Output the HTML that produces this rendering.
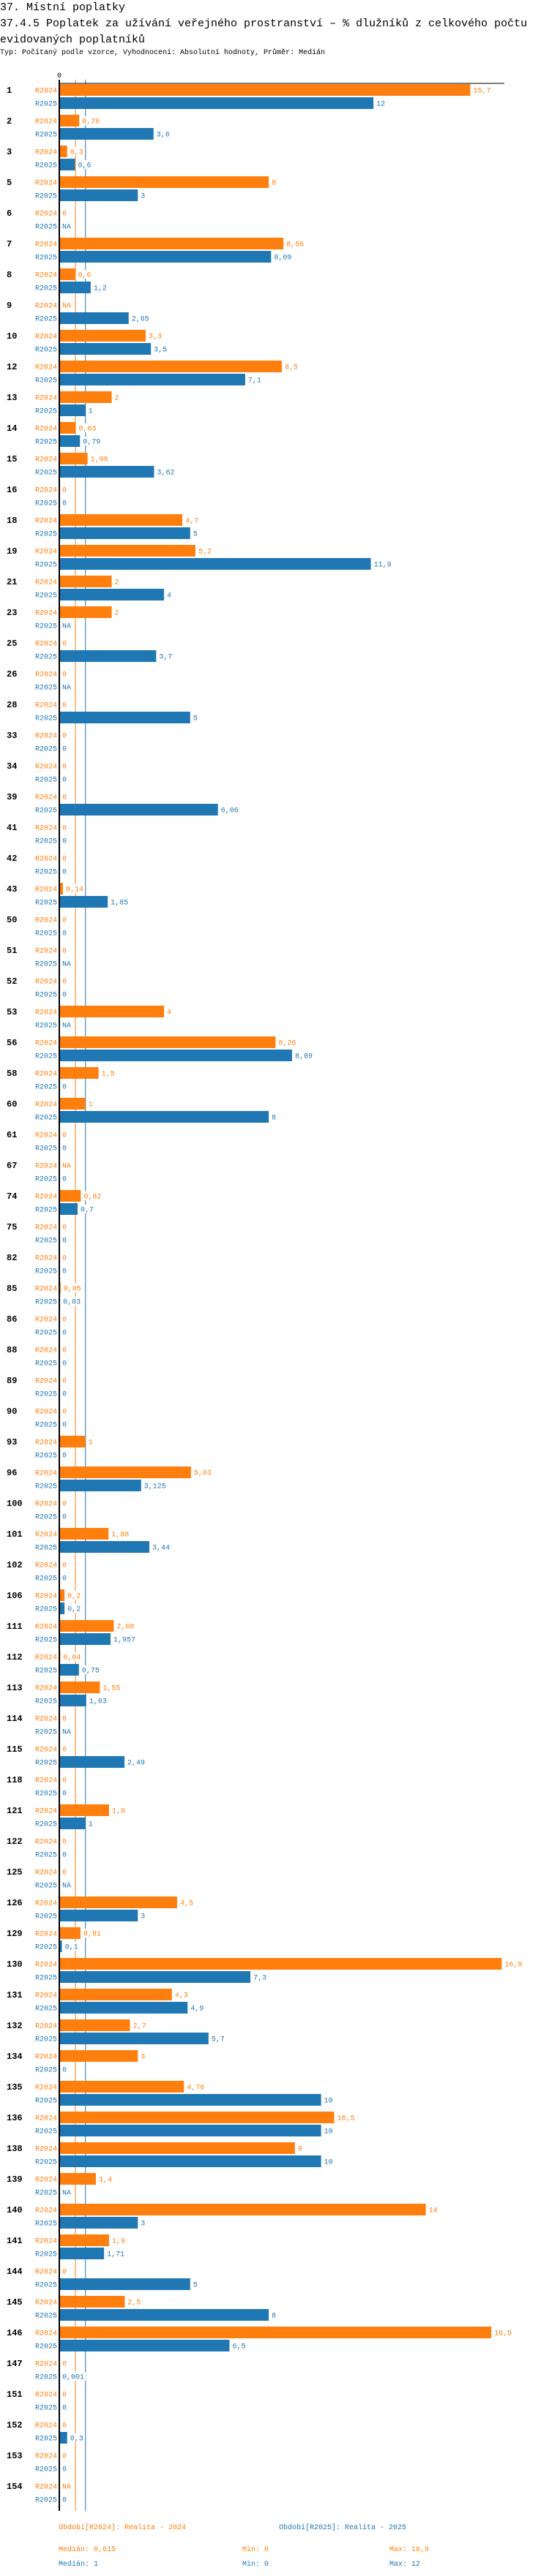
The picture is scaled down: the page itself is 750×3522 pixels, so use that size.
<!DOCTYPE html>
<html><head><meta charset="utf-8">
<style>
body{margin:0;background:#fff;width:750px;height:3522px;overflow:hidden;font-family:"Liberation Mono",monospace;}
.t{position:absolute;left:0;white-space:nowrap;color:#000;}
</style></head><body>
<div class="t" style="top:0px;font-size:15px;line-height:22px;">37. Místní poplatky</div>
<div class="t" style="top:22px;font-size:15px;line-height:22px;">37.4.5 Poplatek za užívání veřejného prostranství – % dlužníků z celkového počtu<br>evidovaných poplatníků</div>
<div class="t" style="top:66px;font-size:10px;line-height:14px;">Typ: Počítaný podle vzorce, Vyhodnocení: Absolutní hodnoty, Průměr: Medián</div>
<svg id="chart" width="750" height="3522" style="position:absolute;left:0;top:0" xmlns="http://www.w3.org/2000/svg"></svg>
<script>
const categories=["1","2","3","5","6","7","8","9","10","12","13","14","15","16","18","19","21","23","25","26","28","33","34","39","41","42","43","50","51","52","53","56","58","60","61","67","74","75","82","85","86","88","89","90","93","96","100","101","102","106","111","112","113","114","115","118","121","122","125","126","129","130","131","132","134","135","136","138","139","140","141","144","145","146","147","151","152","153","154"];
const r2024=[15.7,0.76,0.3,8,0,8.56,0.6,null,3.3,8.5,2,0.63,1.08,0,4.7,5.2,2,2,0,0,0,0,0,0,0,0,0.14,0,0,0,4,8.26,1.5,1,0,null,0.82,0,0,0.05,0,0,0,0,1,5.03,0,1.88,0,0.2,2.08,0.04,1.55,0,0,0,1.9,0,0,4.5,0.81,16.9,4.3,2.7,3,4.76,10.5,9,1.4,14,1.9,0,2.5,16.5,0,0,0,0,null];
const r2025=[12,3.6,0.6,3,null,8.09,1.2,2.65,3.5,7.1,1,0.79,3.62,0,5,11.9,4,null,3.7,null,5,0,0,6.06,0,0,1.85,0,null,0,null,8.89,0,8,0,0,0.7,0,0,0.03,0,0,0,0,0,3.125,0,3.44,0,0.2,1.957,0.75,1.03,null,2.49,0,1,0,null,3,0.1,7.3,4.9,5.7,0,10,10,10,null,3,1.71,5,8,6.5,0.001,0,0.3,0,0];
const seriesNames=["R2024","R2025"];
const medians=[0.615,1];
const mins=[0,0];
const maxs=[16.9,12];
const xDomain=[0,17];

const svg=document.getElementById('chart');
const NS="http://www.w3.org/2000/svg";
const colors=["#ff7f0e","#1f77b4"];
const X0=81,X1=689,TOP=114,G0=123,PITCH=42;
function x(v){return X0+(v-xDomain[0])/(xDomain[1]-xDomain[0])*(X1-X0);}
function gy(i){return G0+i*PITCH;}
function el(tag,attrs,txt){const e=document.createElementNS(NS,tag);for(const k in attrs)e.setAttribute(k,attrs[k]);if(txt!==undefined)e.textContent=txt;svg.appendChild(e);return e;}
function fmt(v){return v===null?"NA":String(v).replace('.',',');}
const bottom=gy(categories.length-1)+34;

// median lines
medians.forEach((m,s)=>{
  const l=el('line',{x1:x(m),x2:x(m),y1:109,y2:bottom,stroke:colors[s],'stroke-width':1});
  
  
});

categories.forEach((c,i)=>{
  const cy=gy(i);
  const g=el('text',{x:9,y:cy+4,'font-size':12,'font-weight':'bold','font-family':'Liberation Mono, monospace',fill:'#000'},c);
  
  
  [r2024,r2025].forEach((arr,s)=>{
    const v=arr[i];const yc=cy+s*18;
    const sl=el('text',{x:78,y:yc+3.5,'font-size':10,'text-anchor':'end','font-family':'Liberation Mono, monospace',fill:colors[s]},seriesNames[s]);
    
    
    let endX=x(0);
    if(v!==null&&v>0){
      const b=el('rect',{x:x(0),y:yc-8,width:x(v)-x(0),height:16,fill:colors[s]});
      
      
      endX=x(v);
    }
    const txt=fmt(v);
    const tw=txt.length*6;
    const bg=el('rect',{x:endX+2,y:yc-6,width:tw+4,height:12,fill:'#fff'});
    
    
    const vl=el('text',{x:endX+4,y:yc+3.5,'font-size':10,'font-family':'Liberation Mono, monospace',fill:colors[s]},txt);
    
    
  });
});

// axes
const ax=el('line',{x1:X0,x2:X0,y1:109,y2:bottom,stroke:'#000','stroke-width':2});


const tx=el('line',{x1:X0,x2:X1,y1:TOP,y2:TOP,stroke:'#000','stroke-width':1});


const t0=el('text',{x:X0,y:106,'font-size':10,'text-anchor':'middle','font-family':'Liberation Mono, monospace',fill:'#000'},"0");



// legend
const legX=[80,381];
seriesNames.forEach((n,s)=>{
  const yr=['2024','2025'][s];
  const l=el('text',{x:legX[s],y:3458,'font-size':10,'font-family':'Liberation Mono, monospace',fill:colors[s]},'Období['+n+']: Realita - '+yr);
  
  
  const ry=3488+s*20;
  const a=el('text',{x:80,y:ry,'font-size':10,'font-family':'Liberation Mono, monospace',fill:colors[s]},'Medián: '+fmt(medians[s]));
  
  
  const b=el('text',{x:331,y:ry,'font-size':10,'font-family':'Liberation Mono, monospace',fill:colors[s]},'Min: '+fmt(mins[s]));
  
  
  const d=el('text',{x:532,y:ry,'font-size':10,'font-family':'Liberation Mono, monospace',fill:colors[s]},'Max: '+fmt(maxs[s]));
  
  
});
</script>
</body></html>
